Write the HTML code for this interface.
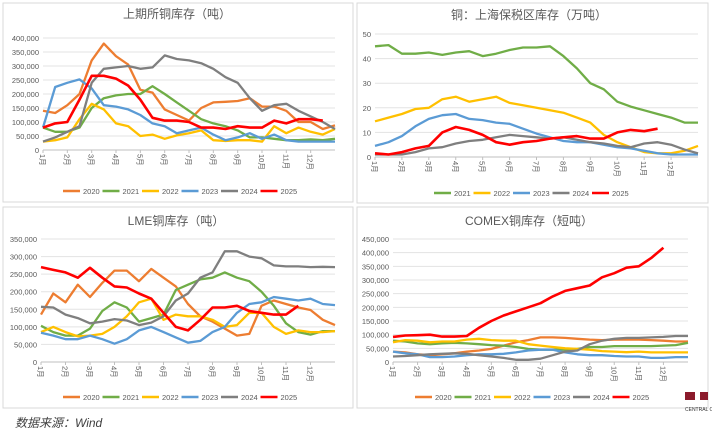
<!DOCTYPE html>
<html><head><meta charset="utf-8"><style>
body{margin:0;background:#fff;width:712px;height:431px;overflow:hidden;font-family:"Liberation Sans","Noto Sans CJK SC",sans-serif}
svg text{font-family:"Liberation Sans","Noto Sans CJK SC",sans-serif}
</style></head><body>
<svg id="c" width="712" height="431" viewBox="0 0 712 431" xmlns="http://www.w3.org/2000/svg">
<rect x="3" y="3" width="350" height="199" fill="#fff" stroke="#d9d9d9"/>
<rect x="357" y="3" width="351" height="200" fill="#fff" stroke="#d9d9d9"/>
<rect x="3" y="207" width="350" height="201" fill="#fff" stroke="#d9d9d9"/>
<rect x="357" y="207" width="351" height="201" fill="#fff" stroke="#d9d9d9"/>
<text x="15" y="427" font-size="12" font-style="italic" fill="#404040">数据来源：Wind</text>
<g>
<rect x="685" y="392" width="10" height="8" fill="#8b1a2b"/><rect x="700" y="392" width="8" height="8" fill="#8b1a2b"/>
<text x="685" y="411" font-size="5" fill="#333">CENTRAL C</text></g>
</svg>
<script>
const years=['2020','2021','2022','2023','2024','2025'];
const colors={'2020':'#ED7D31','2021':'#70AD47','2022':'#FFC000','2023':'#5B9BD5','2024':'#7F7F7F','2025':'#FF0000'};
const months=['1月','2月','3月','4月','5月','6月','7月','8月','9月','10月','11月','12月'];
// Panel 1: SHFE (thousand tonnes), half-month points
const shfe2020=[140,132,160,200,320,380,335,305,215,205,145,125,105,150,170,172,175,185,155,155,140,100,100,75,88];
const shfe2021=[80,65,65,80,150,185,195,200,200,228,200,170,140,110,95,85,70,45,45,40,35,35,38,35,40];
const shfe2022=[30,35,45,110,165,145,95,85,50,55,40,52,60,70,35,32,35,35,30,85,60,80,65,55,75];
const shfe2023=[80,225,240,252,220,160,155,145,125,95,85,60,70,80,55,35,45,60,40,55,35,30,30,30,30];
const shfe2024=[30,45,65,85,240,290,295,300,290,295,338,325,320,310,290,260,240,185,140,160,165,140,120,100,75];
const shfe2025=[80,95,100,180,265,265,255,230,180,115,105,105,100,80,80,75,85,80,80,105,95,110,110,105];
const shfeTicks=['0','50,000','100,000','150,000','200,000','250,000','300,000','350,000','400,000'];
// Panel 2: bonded (10k tonnes)
const bd2021=[45,45.5,42,42,42.5,41.5,42.5,43,41,42,43.5,44.5,44.5,45,41,36,30,27.5,22.5,20.5,19,17.5,16,14,14];
const bd2022=[14.5,16,17.5,19.5,20,23.5,24.5,22.5,23.5,24.5,22,21,20,19,18,16,14,9,6,4,2,1.5,1.5,2.5,4.5];
const bd2023=[4.5,6,8.5,12.5,15.5,17,17.5,15.5,15,14,13.5,11.5,9.5,8,6.5,6,6,5,4,3.5,2.5,1.5,1,1,1];
const bd2024=[1,1,1,2,3.5,4,5.5,6.5,7,8,9,8.5,8,7.5,8,7,6,5.5,4.5,4,5.5,6,5,3,1.5];
const bd2025=[1.5,1,2,3.5,4.5,10,12.2,11,9,6,5,6,6.5,7.5,8,8.5,7.5,7.5,10,11,10.5,11.5];
const bdTicks=['0','10','20','30','40','50'];
// Panel 3: LME (thousand tonnes)
const lme2020=[135,195,170,220,185,225,260,260,230,265,240,215,165,130,115,95,75,80,160,175,165,155,148,120,105];
const lme2021=[103,85,75,75,95,145,170,155,115,125,135,205,220,235,240,255,240,230,200,160,110,85,78,88,88];
const lme2022=[85,100,85,73,75,80,100,130,170,180,120,135,130,130,120,100,105,140,140,100,80,90,85,85,88];
const lme2023=[83,75,65,65,75,65,52,65,90,100,85,70,55,60,85,100,140,165,170,185,180,175,180,165,162];
const lme2024=[157,155,135,125,110,115,122,118,105,112,130,175,195,240,255,315,315,300,295,275,272,272,270,271,270];
const lme2025=[270,262,255,240,268,240,215,212,195,180,140,100,90,120,155,155,160,145,140,135,135,160];
const lmeTicks=['0','50,000','100,000','150,000','200,000','250,000','300,000','350,000'];
// Panel 4: COMEX (thousand short tons)
const cx2020=[38,35,28,25,28,32,38,42,48,60,72,80,90,90,88,85,82,80,82,82,82,80,78,75,75];
const cx2021=[78,75,68,65,68,70,68,65,62,60,55,48,45,45,45,48,55,55,58,58,58,58,60,62,70];
const cx2022=[72,80,78,72,75,75,82,85,80,78,78,65,60,55,50,48,45,40,38,36,38,35,35,35,35];
const cx2023=[38,32,28,18,18,20,25,28,28,30,35,42,45,45,35,28,25,25,22,20,20,15,15,18,18];
const cx2024=[20,22,25,28,30,32,30,25,20,15,8,8,12,25,38,42,65,78,85,88,88,90,92,95,95];
const cx2025=[92,97,98,100,93,93,95,125,150,170,185,200,215,240,260,270,280,310,325,345,350,380,418];
const cxTicks=['0','50,000','100,000','150,000','200,000','250,000','300,000','350,000','400,000','450,000'];

const NS='http://www.w3.org/2000/svg';const svg=document.getElementById('c');
function mk(t,a,p){const e=document.createElementNS(NS,t);for(const k in a)e.setAttribute(k,a[k]);(p||svg).appendChild(e);return e;}
const panels=[
 {id:'shfe',title:'上期所铜库存（吨）',tx:177,ty:18,x0:43,x1:335,yT:38,yB:150,max:400,ticks:shfeTicks,series:{'2020':shfe2020,'2021':shfe2021,'2022':shfe2022,'2023':shfe2023,'2024':shfe2024,'2025':shfe2025},lx:63,ly:191},
 {id:'bonded',title:'铜：上海保税区库存（万吨）',tx:529,ty:19,x0:375,x1:698,yT:34,yB:157,max:50,ticks:bdTicks,series:{'2021':bd2021,'2022':bd2022,'2023':bd2023,'2024':bd2024,'2025':bd2025},lx:434,ly:193},
 {id:'lme',title:'LME铜库存（吨）',tx:176,ty:225,x0:41,x1:335,yT:239,yB:362,max:350,ticks:lmeTicks,series:{'2020':lme2020,'2021':lme2021,'2022':lme2022,'2023':lme2023,'2024':lme2024,'2025':lme2025},lx:63,ly:397},
 {id:'comex',title:'COMEX铜库存（短吨）',tx:529,ty:225,x0:393,x1:688,yT:239,yB:362,max:450,ticks:cxTicks,series:{'2020':cx2020,'2021':cx2021,'2022':cx2022,'2023':cx2023,'2024':cx2024,'2025':cx2025},lx:415,ly:397}
];
panels.forEach(p=>{
 const g=mk('g',{});
 
 
 const xs=i=>p.x0+(p.x1-p.x0)*i/12;
 const ys=v=>p.yB-(p.yB-p.yT)*v/p.max;
 const t=mk('text',{x:p.tx,y:p.ty,'font-size':12,fill:'#595959','text-anchor':'middle'},g);t.textContent=p.title;
 
 
 const n=p.ticks.length-1;
 p.ticks.forEach((lab,i)=>{
  const v=p.max*i/n,y=ys(v);
  if(i>0){const l=mk('line',{x1:p.x0,x2:p.x1,y1:y,y2:y,stroke:'#e3e3e3','stroke-width':1},g);
   
   }
  const tt=mk('text',{x:p.x0-4,y:y+3,'font-size':7.5,fill:'#595959','text-anchor':'end'},g);tt.textContent=lab;
  
  
 });
 const ax=mk('line',{x1:p.x0,x2:p.x1,y1:p.yB,y2:p.yB,stroke:'#bfbfbf'},g);
 
 
 months.forEach((m,i)=>{
  const x=xs(i);
  mk('line',{x1:x,x2:x,y1:p.yB,y2:p.yB+3,stroke:'#bfbfbf'},g);
  const tt=mk('text',{x:0,y:0,'font-size':7.5,fill:'#595959',transform:`translate(${x-3},${p.yB+4}) rotate(90)`},g);tt.textContent=m;
  
  
 });
 Object.keys(p.series).forEach((yr,k)=>{
  const d=p.series[yr].map((v,i)=>(i?'L':'M')+xs(i*0.5).toFixed(1)+','+ys(v).toFixed(1)).join('');
  const pa=mk('path',{d:d,fill:'none',stroke:colors[yr],'stroke-width':yr==='2025'?2.6:2.3,'stroke-linejoin':'round'},g);
  
  
  const lx=p.lx+k*39.5;
  const lg=mk('g',{},g);
  
  
  mk('line',{x1:lx,x2:lx+17,y1:p.ly,y2:p.ly,stroke:colors[yr],'stroke-width':2.5},lg);
  const lt=mk('text',{x:lx+20,y:p.ly+3,'font-size':7.5,fill:'#595959'},lg);lt.textContent=yr;
 });
});
</script>
</body></html>
